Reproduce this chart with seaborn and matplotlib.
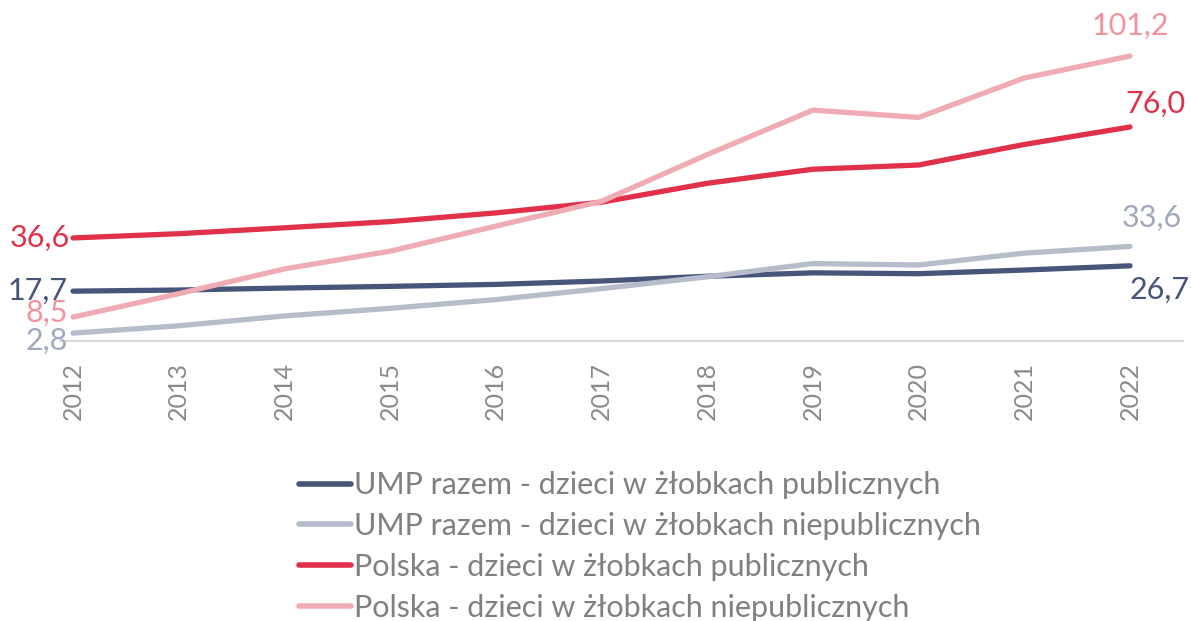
import pandas as pd
import seaborn as sns
import matplotlib.pyplot as plt

# dane
lata = list(range(2012, 2023))
ump_publ = [17.7, 18.1, 18.8, 19.4, 20.1, 21.3, 23.0, 24.2, 23.9, 25.2, 26.7]
ump_niepubl = [2.8, 5.4, 8.9, 11.6, 14.7, 18.6, 22.8, 27.5, 27.0, 31.2, 33.6]
pl_publ = [36.6, 38.1, 40.2, 42.4, 45.5, 49.3, 56.0, 61.0, 62.5, 69.8, 76.0]
pl_niepubl = [8.5, 16.8, 25.6, 31.9, 40.8, 49.6, 66.2, 82.0, 79.4, 93.4, 101.2]

serie = [
    "UMP razem - dzieci w żłobkach publicznych",
    "UMP razem - dzieci w żłobkach niepublicznych",
    "Polska - dzieci w żłobkach publicznych",
    "Polska - dzieci w żłobkach niepublicznych",
]
wartosci = [ump_publ, ump_niepubl, pl_publ, pl_niepubl]
kolory = ["#47557A", "#B7BCCB", "#E0304A", "#F0ACB5"]
kolory_etykiet = ["#47557A", "#A3A9BD", "#E0304A", "#F2929F"]

df = pd.DataFrame({
    "rok": lata * 4,
    "wartosc": sum(wartosci, []),
    "seria": [s for s in serie for _ in lata],
})

sns.set_theme(style="white")
plt.rcParams["font.family"] = ["Lato", "DejaVu Sans"]

fig = plt.figure(figsize=(11.91, 6.21), dpi=100)
ax = fig.add_axes([60 / 1191, 1 - 341 / 621, (1183 - 60) / 1191, 321 / 621])

sns.lineplot(data=df, x="rok", y="wartosc", hue="seria", palette=kolory,
             linewidth=3.8, ax=ax)
for ln in ax.lines:
    ln.set_solid_capstyle("round")

ax.set_xlim(2012 - 13 / 105.7, 2022 + 53 / 105.7)
ax.set_ylim(0, 114)
ax.set_xlabel("")
ax.set_ylabel("")
ax.set_yticks([])
ax.set_xticks(lata)
ax.set_xticklabels([str(r) for r in lata], rotation=90, fontsize=18,
                   color="#8A8A8A")
ax.tick_params(axis="x", length=0, pad=15)
for s in ["top", "left", "right"]:
    ax.spines[s].set_visible(False)
ax.spines["bottom"].set_color("#D9D9D9")
ax.spines["bottom"].set_linewidth(1.5)

# etykiety wartosci na poczatku i koncu
start_off = [(-5, 0), (-5, -8), (-3, 0), (-5, 4)]
end_off = [(0, -24, "left"), (-8, 29, "left"), (-5, 23, "left"), (0, 30, "center")]
fmt = lambda v: f"{v:.1f}".replace(".", ",")
for vals, c, so, eo in zip(wartosci, kolory_etykiet, start_off, end_off):
    ax.annotate(fmt(vals[0]), (lata[0], vals[0]), xytext=so,
                textcoords="offset pixels", ha="right", va="center",
                fontsize=22, color=c, annotation_clip=False)
    ax.annotate(fmt(vals[-1]), (lata[-1], vals[-1]), xytext=eo[:2],
                textcoords="offset pixels", ha=eo[2], va="center",
                fontsize=22, color=c, annotation_clip=False)

handles, labels = ax.get_legend_handles_labels()
ax.get_legend().remove()
leg = fig.legend(handles, labels, loc="upper left",
                 bbox_to_anchor=(284 / 1191, 1 - 456 / 621), frameon=False,
                 fontsize=22, handlelength=1.7, handletextpad=0.1,
                 labelspacing=0.42, borderpad=0)
for t in leg.get_texts():
    t.set_color("#808080")
for h in leg.get_lines():
    h.set_linewidth(4)

fig.savefig("out.png", dpi=100)
